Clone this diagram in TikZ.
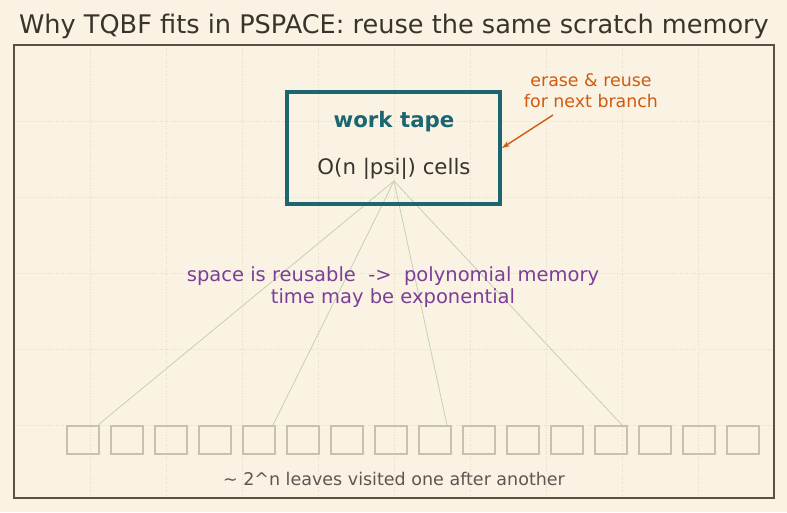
\documentclass[tikz,border=0pt]{standalone}
\usepackage{fontspec}
\setmainfont{DejaVu Sans}
\usetikzlibrary{arrows.meta}
\definecolor{bg}{HTML}{FAF3E4}
\definecolor{frame}{HTML}{5C5040}
\definecolor{gridc}{HTML}{E6DDC8}
\definecolor{teal}{HTML}{1B6670}
\definecolor{ink}{HTML}{3A332C}
\definecolor{orng}{HTML}{D05A0E}
\definecolor{purp}{HTML}{7B3F98}
\definecolor{leafc}{HTML}{CAC0AE}
\definecolor{fanc}{HTML}{C5CFB8}
\definecolor{capc}{HTML}{5E5750}
\tikzset{
  leaf/.style={draw=leafc, line width=1.5pt, minimum width=32pt, minimum height=28pt, inner sep=0pt, anchor=north west},
  fan/.style={draw=fanc, line width=0.8pt},
  tapebox/.style={draw=teal, line width=4pt, minimum width=213pt, minimum height=112pt, inner sep=0pt},
  gridline/.style={gridc, line width=0.6pt, dotted},
}
\begin{document}
\begin{tikzpicture}[x=1pt,y=-1pt]
\fill[bg] (0,0) rectangle (787,512);
\useasboundingbox (0,0) rectangle (787,512);
% grid
\foreach \gx in {90,166,242,318,394,470,546,622,698}
  \draw[gridline] (\gx,45) -- (\gx,498);
\foreach \gy in {121,197,273,349,425}
  \draw[gridline] (14,\gy) -- (774,\gy);
% frame
\draw[frame, line width=1.6pt] (14,45) rectangle (774,498);
% title
\node[ink, font=\fontsize{25.6}{30}\selectfont] (title) at (394,26.5) {Why TQBF fits in PSPACE: reuse the same scratch memory};
% leaves
\foreach \k in {0,...,15}
  \node[leaf] (l\k) at ({66+44*\k},425) {};
% fan
\coordinate (src) at (394,181);
\coordinate (t0) at (98,425);
\coordinate (t4) at (273,425);
\coordinate (t8) at (447,425);
\coordinate (t12) at (622,425);
\foreach \k in {0,4,8,12}
  \draw[fan] (src) -- (t\k);
% work tape
\node[tapebox] (tape) at (393.5,148) {};
\node[teal, font=\fontsize{21.3}{25}\selectfont\bfseries] (wt) at (394,122) {work tape};
\node[ink, font=\fontsize{21.3}{25}\selectfont] (cells) at (394,168.5) {O(n |psi|) cells};
% annotation
\node[orng, font=\fontsize{17.4}{21}\selectfont, align=center] (note) at (591,91) {erase \& reuse\\for next branch};
\draw[orng, line width=1.4pt, -{Stealth[length=8pt,width=5.5pt]}] (553,115) -- (tape.east |- 0,148);
% middle text
\node[purp, font=\fontsize{19.5}{22}\selectfont, align=center] (mid) at (393,287) {space is reusable \ -> \ polynomial memory\\time may be exponential};
% caption
\node[capc, font=\fontsize{17.5}{20}\selectfont] (cap) at (394,478.5) {\textasciitilde{} 2\textasciicircum{}n leaves visited one after another};
\end{tikzpicture}
\end{document}
